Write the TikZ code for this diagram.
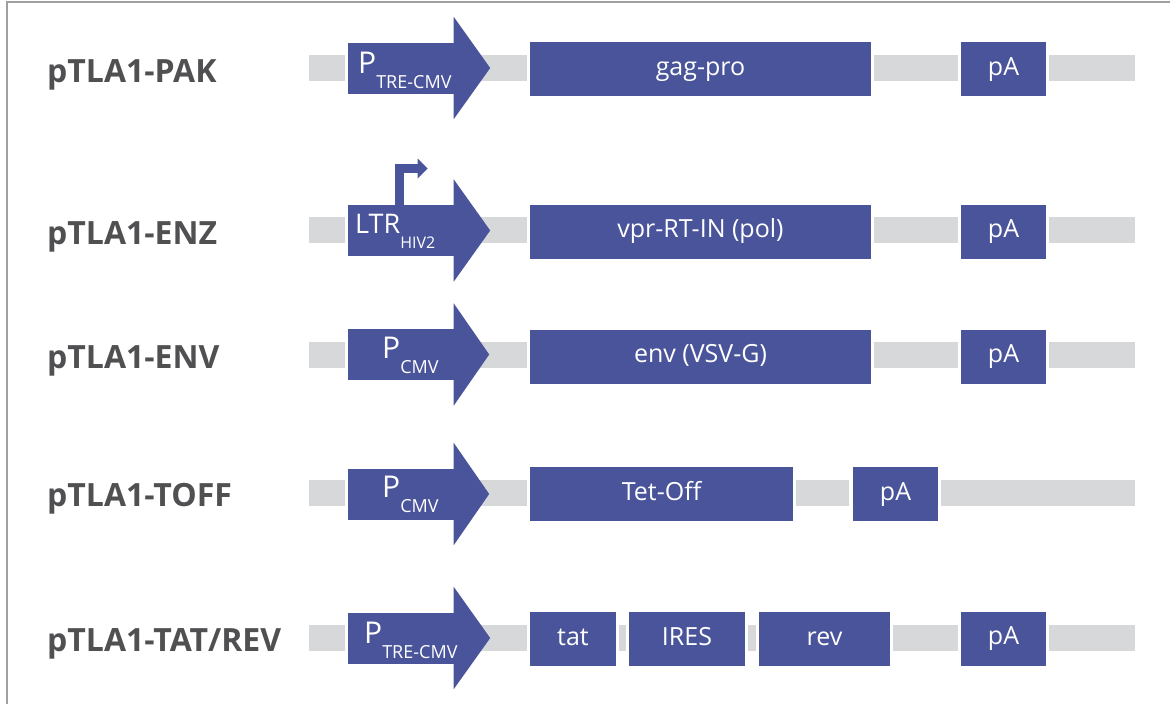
\documentclass[tikz,border=0pt]{standalone}
\usepackage{fontspec}
\setmainfont{Open Sans}
\definecolor{geneblue}{RGB}{74,84,154}
\definecolor{bargray}{RGB}{215,216,218}
\definecolor{labelgray}{RGB}{80,80,82}
\definecolor{framegray}{RGB}{160,160,160}
\newcommand{\subtx}[1]{\raisebox{-15.5pt}{\fontsize{18}{18}\selectfont #1}}
\begin{document}
\begin{tikzpicture}[x=1pt,y=-1pt,
  bar/.style={draw=bargray,line width=26pt,line cap=butt},
  genebox/.style={fill=geneblue,draw=none,minimum height=54pt,inner sep=0pt,
     text=white,font=\fontsize{25}{25}\selectfont,text height=16pt,text depth=4pt},
  body/.style={fill=geneblue,draw=none,minimum width=106pt,minimum height=51pt,inner sep=0pt},
  ptext/.style={text=white,font=\fontsize{30}{30}\selectfont,inner sep=0pt,anchor=base west},
  rowlabel/.style={text=labelgray,font=\fontsize{32}{32}\selectfont\bfseries,inner sep=0pt,anchor=base west}]
\useasboundingbox (0,0) rectangle (1170,704);
\fill[white] (0,0) rectangle (1170,704);
\draw[framegray,line width=2pt] (7,704) -- (7,1.5) -- (1170,1.5);

% row labels
\node[rowlabel] (l1) at (47,82) {pTLA1-PAK};
\node[rowlabel] (l2) at (47,244) {pTLA1-ENZ};
\node[rowlabel] (l3) at (47,368.5) {pTLA1-ENV};
\node[rowlabel] (l4) at (47,506.5) {pTLA1-TOFF};
\node[rowlabel] (l5) at (47,651.5) {pTLA1-TAT/REV};

% Row 1
\coordinate (s1) at (309,68); \coordinate (e1) at (1135,68);
\node[body] (P1) at (401,68) {};
\node[genebox,minimum width=341pt] (G1) at (700.5,69) {gag-pro};
\node[genebox,minimum width=85pt] (A1) at (1003.5,69) {pA};
\draw[bar] (s1) -- ([xshift=-3pt]P1.west);
\draw[bar] (P1.east) -- ([xshift=-3pt]G1.west |- s1);
\draw[bar] ([xshift=3pt]G1.east |- s1) -- ([xshift=-3pt]A1.west |- s1);
\draw[bar] ([xshift=3pt]A1.east |- s1) -- (e1);
\fill[geneblue] ([xshift=-0.5pt,yshift=25.5pt]P1.north east) -- ([xshift=36pt]P1.east) -- ([xshift=-0.5pt,yshift=-25.5pt]P1.south east) -- cycle;
\node[ptext] (T1) at (358,73) {P\subtx{TRE-CMV}};

% Row 2
\coordinate (s2) at (309,230); \coordinate (e2) at (1135,230);
\node[body] (P2) at (401,230.5) {};
\node[genebox,minimum width=341pt] (G2) at (700.5,231.5) {vpr-RT-IN (pol)};
\node[genebox,minimum width=85pt] (A2) at (1003.5,231.5) {pA};
\draw[bar] (s2) -- ([xshift=-3pt]P2.west |- s2);
\draw[bar] (P2.east |- s2) -- ([xshift=-3pt]G2.west |- s2);
\draw[bar] ([xshift=3pt]G2.east |- s2) -- ([xshift=-3pt]A2.west |- s2);
\draw[bar] ([xshift=3pt]A2.east |- s2) -- (e2);
\fill[geneblue] ([xshift=-0.5pt,yshift=25.5pt]P2.north east) -- ([xshift=36pt]P2.east) -- ([xshift=-0.5pt,yshift=-25.5pt]P2.south east) -- cycle;
\node[ptext,font=\fontsize{27}{27}\selectfont] (T2) at (355,233.5) {LTR\raisebox{-15pt}{\fontsize{16}{16}\selectfont HIV2}};
\coordinate (tss) at (418,168.5);
\draw[geneblue,line width=9pt,line join=miter] ([xshift=-1.5pt,yshift=-1pt]P2.north) |- (tss);
\fill[geneblue] (417.5,158.5) -- (427.5,168.5) -- (417.5,178.5) -- cycle;

% Row 3
\coordinate (s3) at (309,355); \coordinate (e3) at (1135,355);
\node[body] (P3) at (401,354.5) {};
\node[genebox,minimum width=341pt] (G3) at (700.5,356.5) {env (VSV-G)};
\node[genebox,minimum width=85pt] (A3) at (1003.5,356.5) {pA};
\draw[bar] (s3) -- ([xshift=-3pt]P3.west |- s3);
\draw[bar] (P3.east |- s3) -- ([xshift=-3pt]G3.west |- s3);
\draw[bar] ([xshift=3pt]G3.east |- s3) -- ([xshift=-3pt]A3.west |- s3);
\draw[bar] ([xshift=3pt]A3.east |- s3) -- (e3);
\fill[geneblue] ([xshift=-0.5pt,yshift=25.5pt]P3.north east) -- ([xshift=35pt]P3.east) -- ([xshift=-0.5pt,yshift=-25.5pt]P3.south east) -- cycle;
\node[ptext] (T3) at (382,358) {P\subtx{CMV}};

% Row 4
\coordinate (s4) at (309,493); \coordinate (e4) at (1135,493);
\node[body] (P4) at (401,494) {};
\node[genebox,minimum width=263pt] (G4) at (661.5,494) {Tet-Off};
\node[genebox,minimum width=85pt] (A4) at (895.5,494) {pA};
\draw[bar] (s4) -- ([xshift=-3pt]P4.west |- s4);
\draw[bar] (P4.east |- s4) -- ([xshift=-3pt]G4.west |- s4);
\draw[bar] ([xshift=3pt]G4.east |- s4) -- ([xshift=-4pt]A4.west |- s4);
\draw[bar] ([xshift=3pt]A4.east |- s4) -- (e4);
\fill[geneblue] ([xshift=-0.5pt,yshift=25.5pt]P4.north east) -- ([xshift=35pt]P4.east) -- ([xshift=-0.5pt,yshift=-25.5pt]P4.south east) -- cycle;
\node[ptext] (T4) at (382,497) {P\subtx{CMV}};

% Row 5
\coordinate (s5) at (309,638); \coordinate (e5) at (1135,638);
\node[body] (P5) at (401,638) {};
\node[genebox,minimum width=86pt] (G5a) at (573,639) {tat};
\node[genebox,minimum width=116pt] (G5b) at (687,639) {IRES};
\node[genebox,minimum width=131pt] (G5c) at (824.5,639) {rev};
\node[genebox,minimum width=85pt] (A5) at (1003.5,638.5) {pA};
\draw[bar] (s5) -- ([xshift=-3pt]P5.west |- s5);
\draw[bar] (P5.east |- s5) -- ([xshift=-3pt]G5a.west |- s5);
\draw[bar] ([xshift=3pt]G5a.east |- s5) -- ([xshift=-3pt]G5b.west |- s5);
\draw[bar] ([xshift=3pt]G5b.east |- s5) -- ([xshift=-3pt]G5c.west |- s5);
\draw[bar] ([xshift=3pt]G5c.east |- s5) -- ([xshift=-3pt]A5.west |- s5);
\draw[bar] ([xshift=3pt]A5.east |- s5) -- (e5);
\fill[geneblue] ([xshift=-0.5pt,yshift=25.5pt]P5.north east) -- ([xshift=36pt]P5.east) -- ([xshift=-0.5pt,yshift=-25.5pt]P5.south east) -- cycle;
\node[ptext] (T5) at (364,643) {P\subtx{TRE-CMV}};
\end{tikzpicture}
\end{document}
